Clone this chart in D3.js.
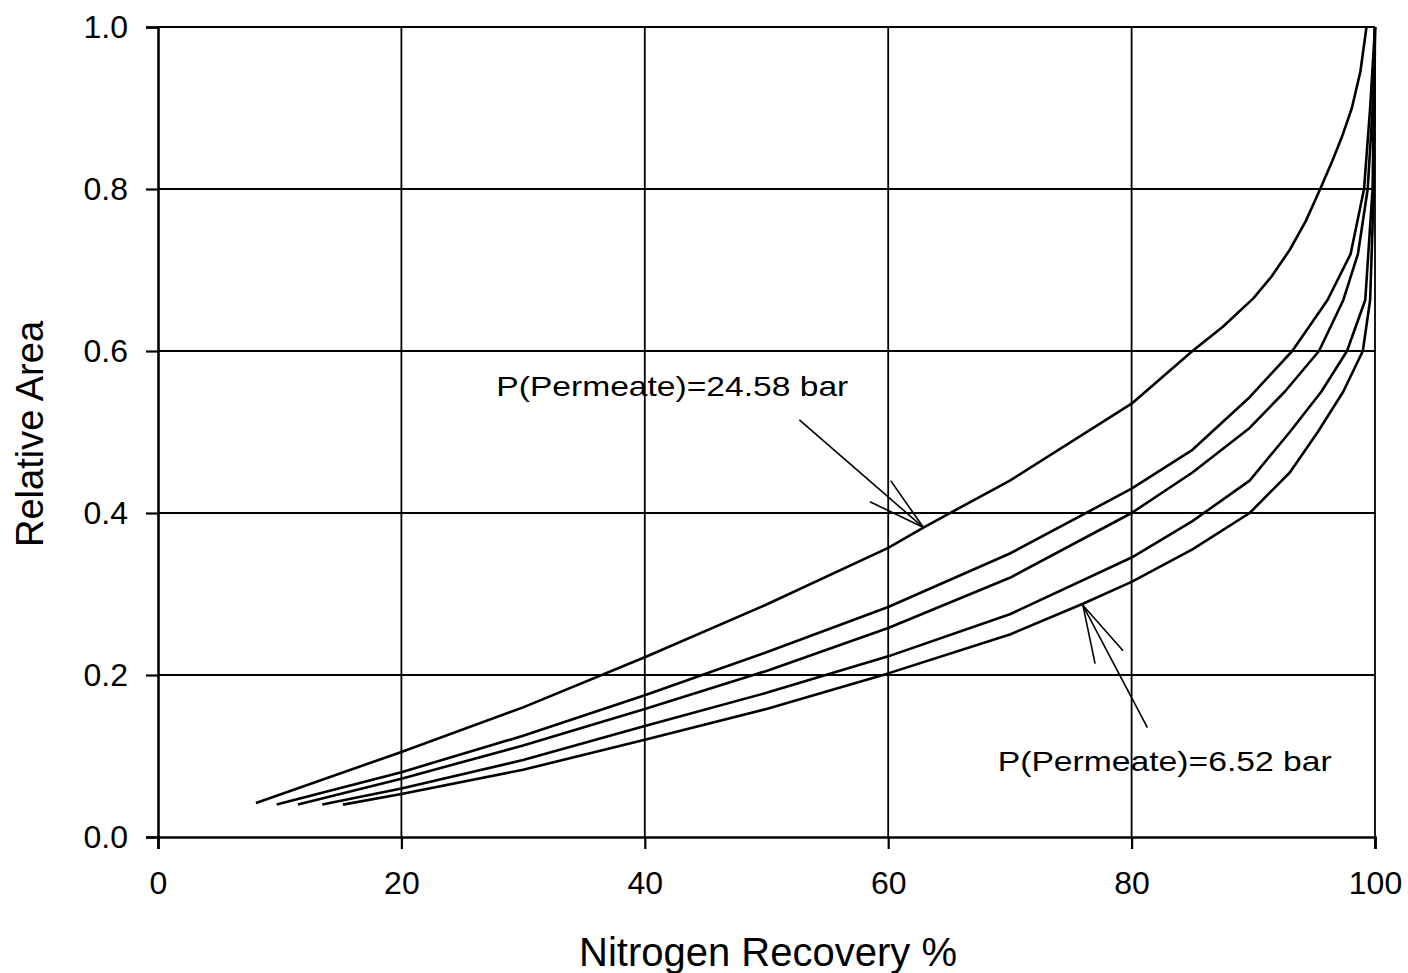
<!DOCTYPE html>
<html>
<head>
<meta charset="utf-8">
<script src="https://cdn.jsdelivr.net/npm/d3@7"></script>
<style>
html,body{margin:0;padding:0;background:#fff;}
text{font-family:"Liberation Sans",Arial,sans-serif;fill:#000;}
</style>
</head>
<body>
<svg id="chart" width="1408" height="973"></svg>
<script>
// ---- data ----
const xTicks = [0, 20, 40, 60, 80, 100];
const yTicks = [0.0, 0.2, 0.4, 0.6, 0.8, 1.0];
const xTitle = "Nitrogen Recovery %";
const yTitle = "Relative Area";

const curve1 = [[8.05,0.042],[20,0.105],[30,0.16],[40,0.222],[50,0.287],[60,0.357],[63,0.383],[70,0.44],[80,0.535],[85,0.60],[87.5,0.63],[90,0.665],[91.5,0.692],[93,0.725],[94.3,0.76],[95.5,0.80],[96.5,0.835],[97.3,0.865],[98.1,0.90],[98.8,0.945],[99.3,1.0]];
const curve2 = [[9.75,0.04],[20,0.08],[30,0.125],[40,0.175],[50,0.228],[60,0.284],[70,0.35],[80,0.43],[85,0.478],[89.7,0.543],[93.2,0.6],[96.1,0.663],[98,0.72],[99.1,0.8],[99.6,0.9],[100,1.0]];
const curve3 = [[11.5,0.04],[20,0.072],[30,0.113],[40,0.158],[50,0.205],[60,0.258],[70,0.32],[80,0.40],[85,0.45],[89.7,0.505],[92.6,0.55],[95.4,0.6],[97.4,0.663],[98.6,0.72],[99.4,0.8],[99.8,0.9],[100,1.0]];
const curve4 = [[13.5,0.04],[20,0.06],[30,0.095],[40,0.137],[50,0.178],[60,0.223],[70,0.275],[80,0.345],[85,0.39],[89.7,0.44],[93,0.5],[95.6,0.55],[97.7,0.6],[99.2,0.663],[99.8,0.8],[100,1.0]];
const curve5 = [[15.2,0.04],[20,0.053],[30,0.083],[40,0.12],[50,0.158],[60,0.202],[70,0.25],[76,0.288],[80,0.315],[85,0.355],[89.7,0.4],[93,0.45],[95.3,0.5],[97.4,0.55],[99,0.6],[99.6,0.663],[99.9,0.8],[100,1.0]];
const curves = [curve1, curve2, curve3, curve4, curve5];

// annotations: label anchor, arrow tail, arrow tip, two head ends (data units)
const annoLabels = ["P(Permeate)=24.58 bar", "P(Permeate)=6.52 bar"];
const annoText = [[27.8, 0.545], [69.0, 0.082]];
const annoTail = [[52.7, 0.515], [81.3, 0.135]];
const annoTip  = [[62.9, 0.382], [76.0, 0.286]];
const annoHeadA = [[58.5, 0.414], [77.0, 0.214]];
const annoHeadB = [[60.2, 0.440], [79.3, 0.230]];

// ---- chart ----
const svg = d3.select("#chart");
const L = 158, R = 1375, T = 27, B = 837;
const x = d3.scaleLinear().domain([0, 100]).range([L, R]);
const y = d3.scaleLinear().domain([0, 1]).range([B, T]);

// gridlines
svg.append("g").selectAll("line").data(xTicks.slice(1)).join("line")
  .attr("x1", d => x(d)).attr("x2", d => x(d)).attr("y1", T).attr("y2", B)
  .attr("stroke", "#000").attr("stroke-width", 1.8);
svg.append("g").selectAll("line").data(yTicks.slice(1)).join("line")
  .attr("x1", L).attr("x2", R).attr("y1", d => y(d)).attr("y2", d => y(d))
  .attr("stroke", "#000").attr("stroke-width", 1.8);

// axes
const xAxis = svg.append("g").attr("transform", `translate(0,${B})`)
  .call(d3.axisBottom(x).tickValues(xTicks).tickSize(12).tickPadding(22).tickFormat(d3.format("d")));
const yAxis = svg.append("g").attr("transform", `translate(${L},0)`)
  .call(d3.axisLeft(y).tickValues(yTicks).tickSize(12).tickPadding(18).tickFormat(d3.format(".1f")));
[xAxis, yAxis].forEach(a => {
  a.attr("font-size", 32).attr("font-family", "Liberation Sans, Arial, sans-serif");
  a.select(".domain").attr("stroke", "#000").attr("stroke-width", 2.6);
  a.selectAll(".tick line").attr("stroke", "#000").attr("stroke-width", 2.2);
  a.selectAll(".tick text").attr("fill", "#000");
});
xAxis.selectAll(".tick text").attr("dy", "0.71em");

// curves
const line = d3.line().x(d => x(d[0])).y(d => y(d[1]));
svg.append("g").selectAll("path").data(curves).join("path")
  .attr("d", line).attr("fill", "none").attr("stroke", "#000").attr("stroke-width", 2.6)
  .attr("stroke-linejoin", "round");

// annotations
annoLabels.forEach((lab, i) => {
  svg.append("text").attr("x", x(annoText[i][0])).attr("y", y(annoText[i][1]))
    .attr("font-size", 28).attr("textLength", lab.length > 20 ? 352 : 334)
    .attr("lengthAdjust", "spacingAndGlyphs").text(lab);
  const g = svg.append("g").attr("stroke", "#000").attr("stroke-width", 1.6);
  [annoTail[i], annoHeadA[i], annoHeadB[i]].forEach(p => {
    g.append("line").attr("x1", x(p[0])).attr("y1", y(p[1]))
      .attr("x2", x(annoTip[i][0])).attr("y2", y(annoTip[i][1]));
  });
});

// titles
svg.append("text").attr("x", 768).attr("y", 966).attr("text-anchor", "middle")
  .attr("font-size", 40).text(xTitle);
svg.append("text").attr("transform", `translate(43,${434}) rotate(-90)`)
  .attr("text-anchor", "middle").attr("font-size", 38).text(yTitle);
</script>
</body>
</html>
